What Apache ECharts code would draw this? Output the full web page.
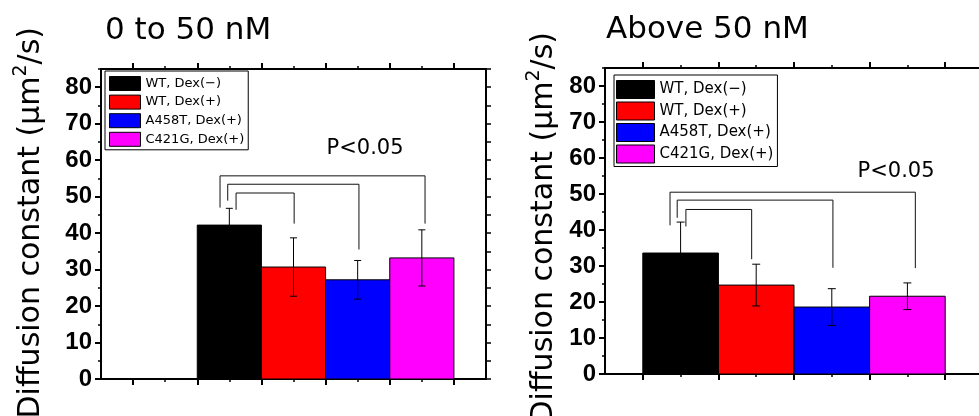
<!DOCTYPE html>
<html><head><meta charset="utf-8">
<script src="https://cdn.jsdelivr.net/npm/echarts@6/dist/echarts.min.js"></script>
<style>html,body{margin:0;padding:0;background:#fff}#c{width:979px;height:416px}</style>
</head><body><div id="c"></div>
<script>
// ---- data ----
const groups = ['WT, Dex(−)', 'WT, Dex(+)', 'A458T, Dex(+)', 'C421G, Dex(+)'];
const groupColors = ['#000000', '#ff0000', '#0000ff', '#ff00ff'];
const panelTitles = ['0 to 50 nM', 'Above 50 nM'];
const yTitleMain = 'Diffusion constant (μm';
const yTitleSup = '2';
const yTitleEnd = '/s)';
const yMin = 0, yMax = 85;
const pLabel = 'P<0.05';
// 0 to 50 nM
const lowMeans = [42.2, 30.7, 27.2, 33.2];
const lowErrs = [4.6, 8.0, 5.3, 7.7];
// Above 50 nM
const highMeans = [33.6, 24.7, 18.6, 21.6];
const highErrs = [8.6, 5.8, 5.1, 3.7];
// significance brackets: [xLeft, xRight, yTop, yLeftEnd, yRightEnd] (axis units)
const lowBrackets = [[3.71, 10.1, 55.7, 47.0, 42.6], [3.95, 8.04, 53.4, 48.9, 35.5], [4.21, 6.02, 51.0, 46.4, 42.6]];
const highBrackets = [[1.72, 8.21, 50.5, 41.3, 29.4], [1.91, 6.03, 48.3, 43.4, 29.5], [2.14, 3.88, 45.7, 41.0, 31.9]];
// P label anchors (axis units)
const lowPAt = [8.23, 63.1];
const highPAt = [7.7, 56.3];

// ---- layout ----
const panels = [
  { grid: { left: 101, right: 493, top: 69, bottom: 37 }, N: 12, firstBar: 3,
    means: lowMeans, errs: lowErrs, brackets: lowBrackets, pAt: lowPAt,
    legend: { left: 105, top: 71, padding: [5, 4, 3, 4], itemWidth: 31, itemHeight: 14, itemGap: 3.6, fontSize: 13 },
    title: { x: 105, y: 31 }, ytitle: { x: 31, y: 27 }, capHalf: 3.5 },
  { grid: { left: 605, right: -4, top: 68, bottom: 42 }, N: 10, firstBar: 1,
    means: highMeans, errs: highErrs, brackets: highBrackets, pAt: highPAt,
    legend: { left: 614, top: 75, padding: [5, 4, 3, 2], itemWidth: 38, itemHeight: 18, itemGap: 2.5, fontSize: 15 },
    title: { x: 606, y: 30 }, ytitle: { x: 544, y: 32 }, capHalf: 4 }
];

const BLACK = '#000';
const grids = [], xAxes = [], yAxes = [], series = [], legends = [], graphics = [];

function renderBar(params, api) {
  const x0 = api.value(0), x1 = api.value(1), m = api.value(2), e = api.value(3), cap = api.value(4);
  const bl = api.coord([x0, 0]), tr = api.coord([x1, m]);
  const xc = (x0 + x1) / 2;
  const hi = api.coord([xc, m + e]), lo = api.coord([xc, m - e]);
  const col = api.visual('color');
  const ln = (a, b, c, d) => ({ type: 'line', shape: { x1: a, y1: b, x2: c, y2: d }, style: { stroke: BLACK, lineWidth: 1 } });
  return { type: 'group', children: [
    { type: 'rect', shape: { x: bl[0], y: tr[1], width: tr[0] - bl[0], height: bl[1] - tr[1] }, style: { fill: col, stroke: BLACK, lineWidth: 1 } },
    ln(hi[0], hi[1], lo[0], lo[1]),
    ln(hi[0] - cap, hi[1], hi[0] + cap, hi[1]),
    ln(lo[0] - cap, lo[1], lo[0] + cap, lo[1])
  ] };
}
function renderBracket(params, api) {
  const xl = api.value(0), xr = api.value(1), yt = api.value(2), yl = api.value(3), yr = api.value(4);
  const pts = [api.coord([xl, yl]), api.coord([xl, yt]), api.coord([xr, yt]), api.coord([xr, yr])];
  return { type: 'polyline', shape: { points: pts }, style: { stroke: '#111', lineWidth: 1, fill: null } };
}
function renderP(params, api) {
  const p = api.coord([api.value(0), api.value(1)]);
  return { type: 'text', x: p[0], y: p[1], style: { text: pLabel, fill: BLACK, fontSize: 21, fontFamily: 'DejaVu Sans', align: 'center', verticalAlign: 'middle' } };
}

panels.forEach((P, g) => {
  grids.push(Object.assign({ containLabel: false, outerBoundsMode: 'none' }, P.grid));
  const N = P.N;
  const cats = Array.from({ length: N + 1 }, (_, i) => String(i));
  const xb = g * 5, yb = g * 3;
  xAxes.push({ type: 'value', gridIndex: g, min: 0, max: N, position: 'bottom', show: false });
  const catAxis = (pos, major) => ({
    type: 'category', gridIndex: g, data: cats, boundaryGap: false, position: pos,
    axisLine: { show: major, onZero: false, lineStyle: { color: BLACK, width: 2 } },
    axisTick: { show: true, inside: false, length: major ? 6 : 3,
      interval: major ? (i) => i % 2 === 1 : (i) => i % 2 === 0 && i > 0 && i < N,
      lineStyle: { color: BLACK, width: major ? 2 : 1.5 } },
    axisLabel: { show: false }, splitLine: { show: false }
  });
  xAxes.push(catAxis('bottom', true), catAxis('bottom', false), catAxis('top', true), catAxis('top', false));
  // left major (labels), left minor, right
  yAxes.push({ type: 'value', gridIndex: g, min: yMin, max: yMax, interval: 10, position: 'left',
    axisLine: { show: true, onZero: false, lineStyle: { color: BLACK, width: 2 } },
    axisTick: { show: true, inside: false, length: 6, lineStyle: { color: BLACK, width: 2 } },
    axisLabel: { show: true, margin: 9, showMaxLabel: false, color: BLACK, fontFamily: 'Liberation Sans', fontWeight: 'bold', fontSize: 24 },
    splitLine: { show: false } });
  yAxes.push({ type: 'value', gridIndex: g, min: yMin, max: yMax, interval: 5, position: 'left',
    axisLine: { show: false, onZero: false },
    axisTick: { show: true, inside: false, length: 3, lineStyle: { color: BLACK, width: 1.5 } },
    axisLabel: { show: false }, splitLine: { show: false } });
  yAxes.push({ type: 'value', gridIndex: g, min: yMin, max: yMax, interval: 5, position: 'right',
    axisLine: { show: true, onZero: false, lineStyle: { color: BLACK, width: 2 } },
    axisTick: { show: true, inside: false, length: 5, lineStyle: { color: BLACK, width: 1.5 } },
    axisLabel: { show: false }, splitLine: { show: false } });

  groups.forEach((name, i) => {
    const x0 = P.firstBar + 2 * i;
    series.push({ type: 'custom', name, xAxisIndex: xb, yAxisIndex: yb, coordinateSystem: 'cartesian2d',
      itemStyle: { color: groupColors[i], borderColor: BLACK, borderWidth: 1 },
      encode: { x: [0, 1], y: 2 },
      data: [[x0, x0 + 2, P.means[i], P.errs[i], P.capHalf]],
      renderItem: renderBar, silent: true, z: 2 });
  });
  series.push({ type: 'custom', xAxisIndex: xb, yAxisIndex: yb, coordinateSystem: 'cartesian2d',
    encode: { x: [0, 1], y: 2 }, data: P.brackets, renderItem: renderBracket, silent: true, z: 3 });
  series.push({ type: 'custom', xAxisIndex: xb, yAxisIndex: yb, coordinateSystem: 'cartesian2d',
    encode: { x: 0, y: 1 }, data: [P.pAt], renderItem: renderP, silent: true, z: 3 });

  const L = P.legend;
  legends.push({ orient: 'vertical', left: L.left, top: L.top, padding: L.padding,
    itemWidth: L.itemWidth, itemHeight: L.itemHeight, itemGap: L.itemGap, icon: 'rect',
    borderColor: BLACK, borderWidth: 1, backgroundColor: '#fff', selectedMode: false,
    textStyle: { color: BLACK, fontFamily: 'DejaVu Sans', fontSize: L.fontSize },
    data: groups.map((n, i) => ({ name: n, itemStyle: { color: groupColors[i], borderColor: BLACK, borderWidth: 1 } })) });

  graphics.push({ type: 'text', x: P.title.x, y: P.title.y, z: 10,
    style: { text: panelTitles[g], fill: BLACK, fontSize: 31, fontFamily: 'DejaVu Sans', align: 'left', verticalAlign: 'middle' } });
  graphics.push({ type: 'text', x: P.ytitle.x, y: P.ytitle.y, rotation: Math.PI / 2, z: 10,
    style: { text: '{m|' + yTitleMain + '}{s|' + yTitleSup + '}{m|' + yTitleEnd + '}', fill: BLACK,
      align: 'right', verticalAlign: 'middle',
      rich: { m: { fontSize: 30, fontFamily: 'DejaVu Sans', lineHeight: 38, fill: BLACK },
              s: { fontSize: 19, fontFamily: 'DejaVu Sans', verticalAlign: 'top', lineHeight: 38, fill: BLACK } } } });
});

const chart = echarts.init(document.getElementById('c'), null, { renderer: 'canvas' });
chart.setOption({
  animation: false,
  backgroundColor: '#fff',
  grid: grids, xAxis: xAxes, yAxis: yAxes, series, legend: legends, graphic: graphics,
  tooltip: { show: false }
});
</script></body></html>
